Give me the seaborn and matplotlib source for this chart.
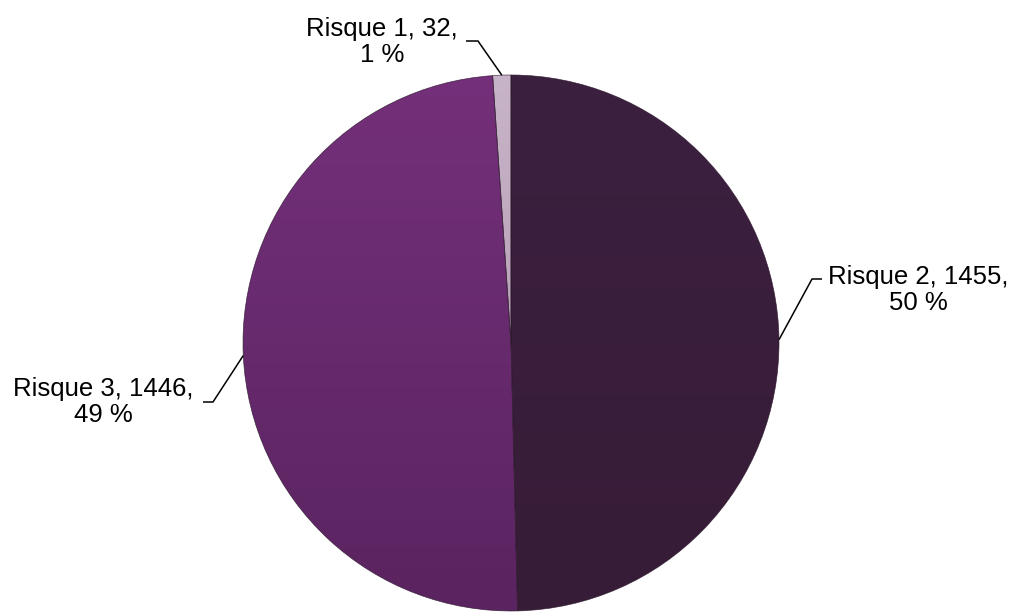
import numpy as np
import matplotlib
matplotlib.use("Agg")
import matplotlib.pyplot as plt
from matplotlib.colors import LinearSegmentedColormap
import seaborn as sns

# Data (order drawn clockwise from 12 o'clock)
categories = ["Risque 2", "Risque 3", "Risque 1"]
values = [1455, 1446, 32]
percents = ["50 %", "49 %", "1 %"]
colors = ["#3a1f3b", "#682b6c", "#bca6bd"]
# top/bottom shades for the soft gradient of each slice
shade_top = ["#3c2040", "#74307a", "#c8b4c8"]
shade_bottom = ["#371c37", "#5a2460", "#a890aa"]

sns.set_theme(style="white")
plt.rcParams['font.family'] = ['Liberation Sans', 'DejaVu Sans']

W, H = 1015, 613
fig = plt.figure(figsize=(W / 100, H / 100), dpi=100)
ax = fig.add_axes([0, 0, 1, 1])

cx, cy, r = 511, H - 343, 268
wedges, _ = ax.pie(values, colors=colors, startangle=90, counterclock=False,
                   center=(cx, cy), radius=r, frame=True,
                   wedgeprops=dict(edgecolor="none", linewidth=0))

grad = np.linspace(1, 0, 256).reshape(-1, 1)
for w, ct, cb in zip(wedges, shade_top, shade_bottom):
    cmap = LinearSegmentedColormap.from_list("g", [cb, ct])
    im = ax.imshow(grad, cmap=cmap, extent=[cx - r, cx + r, cy - r, cy + r],
                   origin="upper", aspect="auto", zorder=2, interpolation="bilinear")
    im.set_clip_path(w)

# thin separating lines between slices
for w in wedges:
    w.set_zorder(3)
    w.set_facecolor("none")
    w.set_edgecolor("#2b152b")
    w.set_linewidth(0.5)
    w.set_alpha(0.8)

ax.set_xlim(0, W)
ax.set_ylim(0, H)
ax.set_aspect('equal')
ax.axis('off')

# label layout: text center, elbow of leader line (pixel coords from top)
label_pos = {
    "Risque 2": dict(tx=918, ty=290, hx0=822, hx1=812, hy=279),
    "Risque 3": dict(tx=103, ty=402, hx0=203, hx1=213, hy=402),
    "Risque 1": dict(tx=382, ty=42, hx0=466, hx1=478, hy=41),
}

for w, cat, v, p in zip(wedges, categories, values, percents):
    ang = np.deg2rad((w.theta1 + w.theta2) / 2)
    px, py = cx + r * np.cos(ang), cy + r * np.sin(ang)
    lp = label_pos[cat]
    ax.text(lp["tx"], H - lp["ty"], f"{cat}, {v},\n{p}", ha="center", va="center",
            fontsize=18.5, color="black", linespacing=1.1, zorder=5)
    ax.plot([lp["hx0"], lp["hx1"], px], [H - lp["hy"], H - lp["hy"], py],
            color="black", linewidth=1.1, solid_capstyle="butt", zorder=5)

fig.savefig("out.png", dpi=100, facecolor="white")
